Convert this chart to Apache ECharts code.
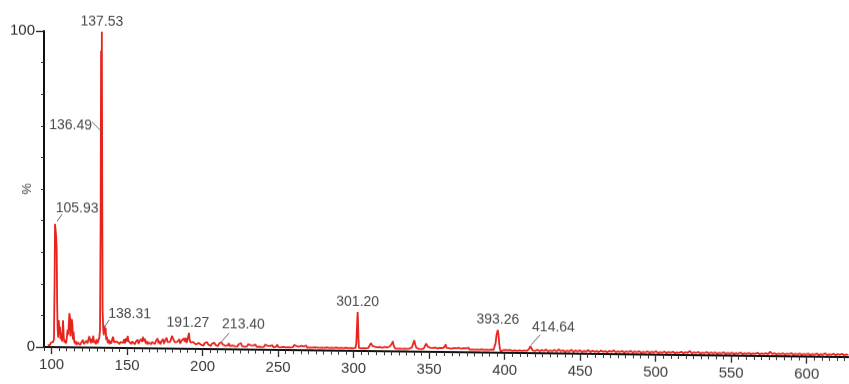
<!DOCTYPE html>
<html><head><meta charset="utf-8">
<script src="https://cdn.jsdelivr.net/npm/echarts@6/dist/echarts.min.js"></script>
<style>html,body{margin:0;padding:0;background:#fff;}#c{width:849px;height:384px;transform:skewY(0.72deg);transform-origin:44px 347px;}</style>
</head><body><div id="c"></div>
<script>
// ---- data (m/z, relative intensity %) ----
const spectrumA = [[97.5,0.5],[98.2,1.0],[98.9,0.7],[99.6,1.4],[100.3,0.9],[101.0,1.6],[101.6,2.5],[102.0,20],[102.3,39],[102.7,37],[103.1,34.5],[103.4,31],[103.7,14],[104.0,6],[104.4,3],[104.8,8.5],[105.2,4],[105.6,6.5],[106.0,2.5],[106.5,4.5],[107.0,1.8],[107.6,8.5],[108.1,3],[108.6,1.5],[109.1,2.2],[109.6,1.2],[110.1,3],[110.6,5.5],[111.1,4],[111.5,8],[111.8,10.8],[112.2,9.5],[112.6,3.5],[113.0,6],[113.4,9],[113.8,7],[114.2,2.5],[114.6,5],[115.0,2],[115.5,1.2],[116.0,2],[116.6,0.8],[117.2,1.6],[117.8,1],[118.4,2],[119.0,0.8],[119.6,1.5],[120.2,1],[120.8,2.4],[121.4,1.1],[122.0,1.6],[122.6,0.9],[123.2,2.2],[123.8,1.3],[124.4,1.8],[125.0,3.6],[125.5,2.4],[126.0,1.4],[126.6,2.8],[127.2,1.6],[127.6,3.8],[128.1,1.5],[128.7,2.2],[129.3,1.1],[129.9,2.6],[130.5,1.4],[131.1,2.0],[131.6,3.2],[132.1,5.5],[132.5,40],[132.8,94],[133.05,45],[133.3,100],[133.55,52],[133.8,12],[134.2,6],[134.6,4],[135.0,7],[135.4,5],[135.8,6.3],[136.2,2.5],[136.7,3.5],[137.2,1.5],[137.8,2.6],[138.4,1.2],[139.0,2.2],[139.6,1.4]];
const spectrumB = [[140.2,2.8],[140.8,3.5],[141.4,1.8],[142.0,2.4],[142.6,1.3],[143.2,2.0],[143.8,1.5],[144.4,2.6],[145.0,1.2],[145.6,1.9],[146.2,1.4],[146.8,2.3],[147.4,1.6],[148.0,2.8],[148.6,1.5],[149.2,3.0],[149.8,2.0],[150.4,3.8],[151.0,2.2],[151.6,1.6],[152.2,2.5],[152.8,1.3],[153.4,2.1],[154.0,1.6],[154.6,2.4],[155.2,1.2],[155.8,2.0],[156.4,1.5],[157.0,2.7],[157.6,1.4],[158.2,2.2],[158.8,1.6],[159.4,2.9],[160.0,2.0],[160.6,3.6],[161.2,2.2],[161.8,3.0],[162.4,1.5],[163.0,2.3],[163.6,1.2],[164.2,1.9],[164.8,1.4],[165.4,2.5],[166.0,1.3],[166.6,2.0],[167.2,1.5],[167.8,2.6],[168.4,1.4],[169.0,2.2],[169.6,1.8],[170.2,3.2],[170.8,1.6],[171.4,2.4],[172.0,1.3],[172.6,2.1],[173.2,1.7],[173.8,3.0],[174.4,1.5],[175.0,2.3],[175.6,1.9],[176.2,3.4],[176.8,2.0],[177.4,2.6],[178.0,1.6],[178.6,2.2],[179.2,2.8],[179.8,4.0],[180.4,3.2],[181.0,3.8],[181.6,2.0],[182.2,2.5],[182.8,1.5],[183.4,2.2],[184.0,1.8],[184.6,3.0],[185.2,1.6],[185.8,2.4],[186.4,2.9],[187.0,1.8],[187.6,3.3],[188.2,2.2],[188.8,3.5],[189.4,1.9],[190.0,2.8],[190.6,4.2],[191.0,5.0],[191.4,3.0],[192.0,2.0],[192.6,2.6],[193.2,1.5],[193.8,2.2],[194.4,1.7],[195.0,2.5],[195.6,1.4],[196.2,2.0],[196.8,1.3],[197.4,1.9],[198.0,1.5],[198.6,2.2],[199.2,1.3],[199.8,1.8],[200.6,1.1],[201.4,1.9],[202.2,1.3],[203.0,2.2],[203.8,1.4],[204.6,1.8],[205.4,1.0],[206.2,1.7],[207.0,1.2],[207.8,2.0],[208.6,1.3],[209.4,1.6],[210.2,1.0],[211.0,1.8],[211.8,1.4],[212.5,2.2],[212.9,2.6],[213.4,1.5],[214.2,1.9],[215.0,1.1],[215.8,1.6],[216.6,1.2],[217.4,1.9],[218.2,1.0],[219.0,1.5],[219.8,1.2],[220.6,1.8],[221.4,1.0],[222.2,1.4],[223.0,0.9],[223.8,1.6],[224.6,1.2],[225.4,2.0],[226.2,1.1],[227.0,1.5],[227.8,0.9],[228.6,1.4],[229.4,1.0],[230.2,1.7],[231.0,1.1],[231.8,1.4],[232.6,0.8],[233.4,1.3],[234.2,1.0],[235.0,1.6],[235.8,0.9],[236.6,1.3],[237.4,1.0],[238.2,1.5],[239.0,0.8],[239.8,1.2],[240.6,0.9],[241.4,1.6],[242.2,1.0],[243.0,1.3],[243.8,0.8],[244.6,1.2],[245.4,1.0],[246.2,1.5],[247.0,0.8],[247.8,1.2],[248.6,1.0],[249.4,1.7],[250.2,0.9],[251.0,1.3],[251.8,0.8],[252.6,1.2],[253.4,1.0],[254.2,1.4],[255.0,0.8],[255.8,1.1],[256.6,0.9],[257.4,1.5],[258.2,0.8],[259.0,1.2],[259.8,0.9],[260.6,1.6],[261.4,1.0],[262.2,1.3],[263.0,0.8],[263.8,1.1],[264.6,0.9],[265.4,1.4],[266.2,0.8],[267.0,1.2],[267.8,1.0],[268.6,1.5],[269.4,0.8],[270.2,1.1],[271.0,0.9],[271.8,1.3],[272.6,0.8],[273.4,1.2],[274.2,1.0],[275.0,1.6],[275.8,0.9],[276.6,1.2],[277.4,0.8],[278.2,1.1],[279.0,0.9],[279.8,1.4],[280.6,0.8],[281.4,1.2],[282.2,1.0],[283.0,1.5],[283.8,0.8],[284.6,1.1],[285.4,0.9],[286.2,1.3],[287.0,0.8],[287.8,1.2],[288.6,1.0],[289.4,1.4],[290.2,0.8],[291.0,1.1],[291.8,0.9],[292.6,1.3],[293.4,0.8],[294.2,1.2],[295.0,1.0],[295.8,1.4],[296.6,0.8],[297.4,1.1],[298.2,0.9],[299.0,1.3],[299.8,0.8],[300.6,1.2],[301.3,1.0]];
const spectrumC = [[301.8,2.5],[302.2,7],[302.5,10.5],[302.7,12.3],[302.95,9],[303.2,4],[303.5,1.0],[303.9,0.4],[304.4,1.2],[305.0,0.8],[305.8,1.3],[306.6,0.9],[307.4,1.4],[308.2,0.8],[309.0,1.2],[309.8,1.0],[310.6,1.8],[311.4,2.5],[312.0,3.0],[312.6,1.6],[313.4,1.1],[314.2,1.4],[315.0,0.8],[315.8,1.2],[316.6,0.9],[317.4,1.3],[318.2,0.8],[319.0,1.1],[319.8,0.9],[320.6,1.4],[321.4,0.8],[322.2,1.2],[323.0,1.0],[323.8,1.5],[324.6,1.1],[325.4,2.4],[326.0,3.2],[326.6,1.8],[327.4,1.0],[328.2,1.4],[329.0,0.8],[329.8,1.2],[330.6,0.9],[331.4,1.3],[332.2,0.8],[333.0,1.1],[333.8,0.9],[334.6,1.4],[335.4,0.8],[336.2,1.2],[337.0,1.0],[337.8,1.6],[338.6,1.3],[339.4,2.5],[340.2,3.6],[340.8,2.2],[341.6,1.2],[342.4,1.5],[343.2,0.9],[344.0,1.3],[344.8,0.8],[345.6,1.2],[346.4,1.0],[347.2,1.8],[348.0,2.6],[348.6,3.1],[349.2,1.6],[350.0,1.0],[350.8,1.3],[351.6,0.8],[352.4,1.2],[353.2,0.9],[354.0,1.4],[354.8,0.8],[355.6,1.1],[356.4,0.9],[357.2,1.3],[358.0,0.8],[358.8,1.2],[359.6,1.0],[360.4,1.7],[361.0,2.4],[361.6,1.3],[362.4,0.9],[363.2,1.2],[364.0,0.8],[364.8,1.1],[365.6,0.9],[366.4,1.3],[367.2,0.8],[368.0,1.2],[368.8,1.0],[369.6,1.4],[370.4,0.8],[371.2,1.1],[372.0,0.9],[372.8,1.3],[373.6,0.8],[374.4,1.2],[375.2,0.9],[376.0,1.5],[376.8,0.8],[377.6,1.1],[378.4,0.9],[379.2,1.2],[380.0,0.8],[380.8,1.3],[381.6,0.9],[382.4,1.1],[383.2,0.8],[384.0,1.2],[384.8,1.0],[385.6,1.4],[386.4,0.8],[387.2,1.1],[388.0,0.9],[388.8,1.3],[389.6,0.8],[390.4,1.2],[391.2,1.0],[392.0,1.4],[392.6,0.8],[393.2,1.2],[394.0,3],[394.6,5.5],[395.1,6.5],[395.5,7.2],[395.9,5.8],[396.4,3],[396.9,1.2],[397.4,0.5],[398.0,1.1],[398.8,0.8],[399.6,1.2],[400.4,0.9],[401.2,1.3],[402.0,0.8],[402.8,1.1],[403.6,0.9],[404.4,1.2],[405.2,0.7],[406.0,1.0],[406.8,0.8],[407.6,1.2],[408.4,0.7],[409.2,1.0],[410.0,0.8],[410.8,1.1],[411.6,0.7],[412.4,1.0],[413.2,0.8],[414.0,1.1],[414.8,0.7],[415.6,1.0],[416.4,1.5],[417.0,2.2],[417.5,2.6],[418.0,1.6],[418.6,0.8],[419.4,1.0]];
const spectrumD = [[420.4,0.7],[421.8,1.1],[423.2,0.6],[424.6,1.0],[426.0,0.7],[427.4,1.2],[428.8,0.6],[430.2,0.9],[431.6,0.7],[433.0,1.1],[434.4,0.6],[435.8,1.3],[437.2,0.7],[438.6,1.0],[440.0,0.6],[441.4,0.9],[442.8,0.7],[444.2,1.2],[445.6,0.6],[447.0,1.0],[448.4,0.7],[449.8,1.1],[451.2,0.6],[452.6,0.9],[454.0,0.7],[455.4,1.2],[456.8,0.6],[458.2,1.0],[459.6,0.7],[461.0,0.9],[462.4,0.6],[463.8,1.1],[465.2,0.7],[466.6,0.9],[468.0,0.6],[469.4,1.0],[470.8,0.7],[472.2,1.2],[473.6,0.6],[475.0,0.9],[476.4,0.7],[477.8,1.0],[479.2,0.6],[480.6,0.9],[482.0,0.7],[483.4,1.1],[484.8,0.6],[486.2,0.9],[487.6,0.7],[489.0,1.0],[490.4,0.6],[491.8,0.8],[493.2,0.7],[494.6,1.0],[496.0,0.6],[497.4,0.9],[498.8,0.7],[500.2,1.1],[501.6,0.6],[503.0,0.8],[504.4,0.7],[505.8,1.0],[507.2,0.6],[508.6,0.9],[510.0,0.7],[511.4,1.0],[512.8,0.6],[514.2,0.8],[515.6,0.7],[517.0,1.0],[518.4,0.6],[519.8,0.9],[521.2,0.7],[522.6,1.3],[524.0,0.6],[525.4,0.9],[526.8,0.7],[528.2,1.0],[529.6,0.6],[531.0,0.8],[532.4,0.7],[533.8,1.0],[535.2,0.6],[536.6,0.9],[538.0,0.7],[539.4,0.9],[540.8,0.6],[542.2,0.8],[543.6,0.7],[545.0,1.0],[546.4,0.6],[547.8,0.8],[549.2,0.7],[550.6,0.9],[552.0,0.6],[553.4,0.8],[554.8,0.7],[556.2,1.0],[557.6,0.6],[559.0,0.8],[560.4,0.7],[561.8,0.9],[563.2,0.6],[564.6,0.8],[566.0,0.7],[567.4,1.0],[568.8,0.6],[570.2,0.8],[571.6,0.7],[573.0,0.9],[574.4,0.6],[575.8,1.4],[577.2,0.7],[578.6,0.9],[580.0,0.6],[581.4,0.8],[582.8,0.7],[584.2,0.9],[585.6,0.6],[587.0,0.8],[588.4,0.7],[589.8,1.0],[591.2,0.6],[592.6,0.8],[594.0,0.7],[595.4,0.9],[596.8,0.6],[598.2,0.8],[599.6,0.7],[601.0,0.9],[602.4,0.6],[603.8,0.8],[605.2,0.7],[606.6,1.0],[608.0,0.6],[609.4,0.8],[610.8,0.7],[612.2,1.1],[613.6,0.6],[615.0,0.8],[616.4,0.7],[617.8,1.0],[619.2,0.6],[620.6,0.9],[622.0,0.7],[623.4,1.0],[624.8,0.6],[626.2,0.8],[627.6,0.7]];

// peak annotations: text, and the m/z / intensity point each label refers to
const peakLabels = ['105.93','136.49','137.53','138.31','191.27','213.40','301.20','393.26','414.64'];
const peakMz     = [103.0, 132.75, 133.3, 134.2, 191.0, 212.9, 302.7, 395.5, 417.5];
const peakInt    = [39.2, 68.6, 100, 6, 5, 2.6, 12.3, 7.2, 2.6];

// axis tick labels
const xTickLabels = [100,150,200,250,300,350,400,450,500,550,600];
const yTickLabels = [0,100];

// ---- styling of the annotations (pixel offsets from the anchor point) ----
const annoStyle = [
  {t:[21,-15], a:'center', l:[1,-2,6,-9]},
  {t:[-9,-5], a:'right', l:[-9,-9,0,0]},
  {t:[0,-10], a:'center', l:null},
  {t:[5,-15], a:'left', l:[0,0,6,-9]},
  {t:[-1,-10], a:'center', l:null},
  {t:[0,-17], a:'left', l:[0,0,7,-8]},
  {t:[0,-10], a:'center', l:null},
  {t:[0,-10], a:'center', l:null},
  {t:[1,-18], a:'left', l:[0,0,9,-10]}
];

const spectrum = spectrumA.concat(spectrumB, spectrumC, spectrumD);
const annoData = peakLabels.map((t,i)=>[peakMz[i], peakInt[i], t]);

const chart = echarts.init(document.getElementById('c'), null, {renderer:'canvas'});
const FONT = 'Liberation Sans, Arial, sans-serif';
chart.setOption({
  animation:false,
  backgroundColor:'#fff',
  grid:{left:44, right:0, top:31, bottom:37, containLabel:false, outerBoundsMode:'none'},
  xAxis:[
    {type:'value', min:95, max:628,
     axisLine:{show:true, lineStyle:{color:'#111', width:2}},
     axisTick:{show:true, customValues:xTickLabels, length:7, lineStyle:{color:'#222', width:1.3}},
     axisLabel:{show:true, customValues:xTickLabels, color:'#3a3a3a', fontSize:15, fontFamily:FONT, margin:10},
     splitLine:{show:false}},
    {type:'value', min:95, max:628, interval:5, gridIndex:0,
     axisLine:{show:false}, axisTick:{show:true, length:4, lineStyle:{color:'#333', width:1}},
     axisLabel:{show:false}, splitLine:{show:false}, position:'bottom'}
  ],
  yAxis:[
    {type:'value', min:0, max:100, interval:10,
     name:'%', nameLocation:'middle', nameGap:10, nameRotate:90, nameMoveOverlap:false,
     nameTextStyle:{color:'#444', fontSize:13, fontFamily:FONT},
     axisLine:{show:true, lineStyle:{color:'#111', width:2}},
     axisTick:{show:true, length:3, lineStyle:{color:'#333', width:1}},
     axisLabel:{show:true, color:'#2a2a2a', fontSize:15, fontFamily:FONT, margin:9,
       formatter:v=> yTickLabels.indexOf(v)>=0 ? String(v) : ''},
     splitLine:{show:false}},
    {type:'value', min:0, max:100, interval:100, position:'left',
     axisLine:{show:false}, axisTick:{show:true, length:8, lineStyle:{color:'#222', width:1.3}},
     axisLabel:{show:false}, splitLine:{show:false}}
  ],
  series:[
    {type:'line', xAxisIndex:0, yAxisIndex:0, data:spectrum, showSymbol:false, symbol:'none',
     sampling:null, lineStyle:{color:'#e8231c', width:1.8}, z:3},
    {type:'custom', xAxisIndex:0, yAxisIndex:0, data:annoData, z:4, clip:false,
     renderItem:function(params, api){
       const p = api.coord([api.value(0), api.value(1)]);
       const s = annoStyle[params.dataIndex];
       const children = [{type:'text', style:{text:peakLabels[params.dataIndex], x:p[0]+s.t[0], y:p[1]+s.t[1],
         align:s.a, verticalAlign:'middle', fill:'#4a4a4a', font:'14px '+FONT}}];
       if (s.l) children.push({type:'line', shape:{x1:p[0]+s.l[0], y1:p[1]+s.l[1], x2:p[0]+s.l[2], y2:p[1]+s.l[3]},
         style:{stroke:'#666', lineWidth:1}});
       return {type:'group', children:children};
     }}
  ]
});
</script></body></html>
